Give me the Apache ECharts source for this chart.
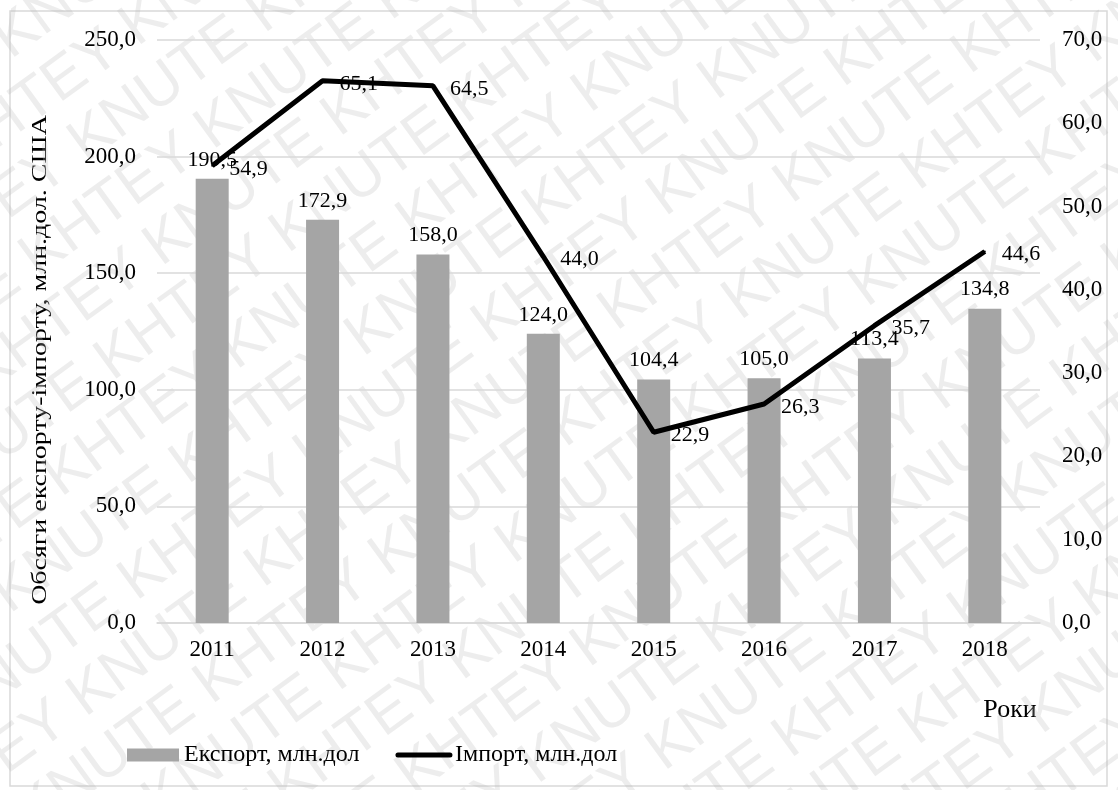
<!DOCTYPE html>
<html>
<head>
<meta charset="utf-8">
<script src="https://cdn.jsdelivr.net/npm/echarts@6/dist/echarts.min.js"></script>
<style>
  html, body { margin: 0; padding: 0; background: #fff; }
  #chart { width: 1118px; height: 790px; }
</style>
</head>
<body>
<div id="chart"></div>
<script>
// Роки
const years = ['2011', '2012', '2013', '2014', '2015', '2016', '2017', '2018'];
// Експорт, млн.дол (ліва вісь)
const exportValues = [190.5, 172.9, 158.0, 124.0, 104.4, 105.0, 113.4, 134.8];
// Імпорт, млн.дол (права вісь)
const importValues = [54.9, 65.1, 64.5, 44.0, 22.9, 26.3, 35.7, 44.6];

const FONT = '"Liberation Serif", "Times New Roman", serif';
const fmt = v => Number(v).toFixed(1).replace('.', ',');

const chart = echarts.init(document.getElementById('chart'));

// Repeated diagonal watermark text
const wmRows = [];
for (let r = -14; r <= 14; r++) {
  wmRows.push({
    type: 'text',
    x: -900 + (r % 2 === 0 ? 0 : 110),
    y: r * 64,
    style: {
      text: 'KHTEY KNUTE KHTEY KNUTE KHTEY KNUTE KHTEY KNUTE KHTEY KNUTE',
      font: '60px "Liberation Sans", Arial, sans-serif',
      fill: 'rgba(185,185,185,0.26)'
    },
    silent: true
  });
}

chart.setOption({
  animation: false,
  backgroundColor: '#fff',
  textStyle: { fontFamily: FONT },
  grid: { left: 157, right: 78, top: 40, bottom: 167 },
  legend: {
    left: 122,
    top: 738,
    itemWidth: 52,
    itemHeight: 13,
    itemGap: 36,
    textStyle: { fontFamily: FONT, fontSize: 24, color: '#000' },
    data: [
      { name: 'Експорт, млн.дол', icon: 'rect' },
      {
        name: 'Імпорт, млн.дол',
        itemStyle: { opacity: 0 },
        lineStyle: { width: 5, color: '#000', cap: 'round' }
      }
    ]
  },
  xAxis: {
    type: 'category',
    data: years,
    axisTick: { show: false },
    axisLine: { lineStyle: { color: '#d9d9d9', width: 1.5 } },
    axisLabel: { color: '#000', fontFamily: FONT, fontSize: 23, margin: 15 }
  },
  yAxis: [
    {
      type: 'value',
      min: 0, max: 250, interval: 50,
      axisLine: { show: false },
      axisTick: { show: false },
      splitLine: { lineStyle: { color: '#d9d9d9', width: 1.5 } },
      axisLabel: { color: '#000', fontFamily: FONT, fontSize: 23, margin: 21, formatter: fmt }
    },
    {
      type: 'value',
      min: 0, max: 70, interval: 10,
      axisLine: { show: false },
      axisTick: { show: false },
      splitLine: { show: false },
      axisLabel: { color: '#000', fontFamily: FONT, fontSize: 23, margin: 22, formatter: fmt }
    }
  ],
  series: [
    {
      name: 'Експорт, млн.дол',
      type: 'bar',
      data: exportValues,
      barWidth: 33,
      itemStyle: { color: '#a5a5a5' },
      label: {
        show: true, position: 'top', distance: 8,
        color: '#000', fontFamily: FONT, fontSize: 22, formatter: p => fmt(p.value)
      }
    },
    {
      name: 'Імпорт, млн.дол',
      type: 'line',
      yAxisIndex: 1,
      data: importValues,
      symbol: 'circle',
      symbolSize: 2,
      lineStyle: { color: '#000', width: 5 },
      itemStyle: { color: '#000' },
      label: {
        show: true, position: 'right', distance: 16, offset: [0, 3],
        color: '#000', fontFamily: FONT, fontSize: 22, formatter: p => fmt(p.value)
      },
      z: 3
    }
  ],
  graphic: [
    {
      type: 'rect',
      shape: { x: 10, y: 11, width: 1097, height: 775 },
      style: { fill: 'none', stroke: '#d9d9d9', lineWidth: 1.5 },
      silent: true,
      z: -1
    },
    {
      type: 'text',
      x: 40, y: 360,
      rotation: Math.PI / 2,
      scaleX: 1.27,
      style: {
        text: 'Обсяги експорту-імпорту, млн.дол. США',
        font: '22px ' + FONT,
        fill: '#000',
        align: 'center',
        verticalAlign: 'middle'
      }
    },
    {
      type: 'text',
      x: 1010, y: 710,
      style: {
        text: 'Роки',
        font: '26px ' + FONT,
        fill: '#000',
        align: 'center',
        verticalAlign: 'middle'
      }
    },
    {
      type: 'group',
      x: 559, y: 395,
      rotation: 36 * Math.PI / 180,
      silent: true,
      z: 100,
      children: wmRows
    }
  ]
});
</script>
</body>
</html>
